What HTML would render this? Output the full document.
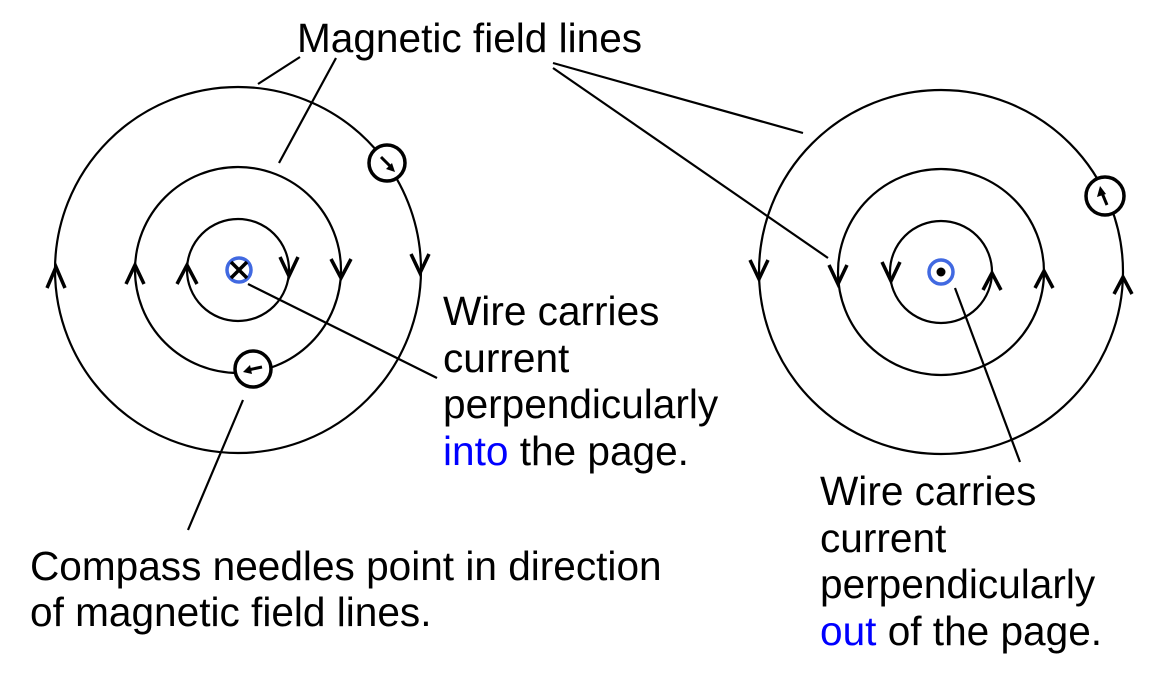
<!DOCTYPE html>
<html><head><meta charset="utf-8"><style>
html,body{margin:0;padding:0;background:#fff;width:1158px;height:692px;overflow:hidden}
svg text{font-family:"Liberation Sans",Arial,sans-serif;font-size:40.6px;fill:#000}
</style></head><body>
<svg width="1158" height="692" viewBox="0 0 1158 692">
<g fill="none" stroke="#000" stroke-width="2.2">
 <circle cx="238" cy="270" r="51"/>
 <circle cx="238" cy="270" r="103"/>
 <circle cx="238" cy="270" r="183"/>
 <circle cx="941" cy="272" r="51"/>
 <circle cx="941" cy="272" r="103"/>
 <circle cx="941" cy="272" r="182"/>
 <line x1="300" y1="57" x2="258" y2="84"/>
 <line x1="336" y1="58" x2="279" y2="163"/>
 <line x1="553" y1="63" x2="803" y2="133"/>
 <line x1="553" y1="68" x2="828" y2="258"/>
 <line x1="248" y1="284" x2="437" y2="378"/>
 <line x1="243" y1="400" x2="188" y2="530"/>
 <line x1="955" y1="288" x2="1020" y2="462"/>
</g>
<g fill="none" stroke="#000" stroke-width="3.5">
 <polyline points="47,288 56,267 65,288"/>
 <polyline points="126,284 135,265 144,284"/>
 <polyline points="177,284 187,265 197,284"/>
 <polyline points="280,257 289,276 298,257"/>
 <polyline points="331,259 341,278 351,259"/>
 <polyline points="411,254 420,273 429,254"/>
 <polyline points="750,260 759,279 768,260"/>
 <polyline points="829,265 838,284 847,265"/>
 <polyline points="882,262 891,281 900,262"/>
 <polyline points="983,290 992,273 1001,290"/>
 <polyline points="1035,288 1044,271 1053,288"/>
 <polyline points="1114,294 1123,277 1132,294"/>
</g>
<g>
 <circle cx="239" cy="270" r="12" fill="#fff" stroke="#4169e1" stroke-width="3.5"/>
 <line x1="231" y1="262" x2="247" y2="278" stroke="#000" stroke-width="3.5"/>
 <line x1="247" y1="262" x2="231" y2="278" stroke="#000" stroke-width="3.5"/>
</g>
<g>
 <circle cx="941" cy="272" r="12" fill="#fff" stroke="#4169e1" stroke-width="3.5"/>
 <circle cx="941" cy="272" r="4.5" fill="#000"/>
</g>
<g>
 <circle cx="387" cy="163" r="18" fill="#fff" stroke="#000" stroke-width="3.5"/>
 <line x1="381" y1="157" x2="392" y2="168" stroke="#000" stroke-width="3"/>
 <polygon points="395,172 386,169 392,163" fill="#000"/>
</g>
<g>
 <circle cx="253" cy="369" r="18" fill="#fff" stroke="#000" stroke-width="3.5"/>
 <line x1="262" y1="367" x2="248" y2="370" stroke="#000" stroke-width="3"/>
 <polygon points="243,372 250,365 252,374" fill="#000"/>
</g>
<g>
 <circle cx="1105" cy="196" r="19" fill="#fff" stroke="#000" stroke-width="3.5"/>
 <line x1="1107" y1="205" x2="1102" y2="193" stroke="#000" stroke-width="3"/>
 <polygon points="1100,186 1097,197 1106,194" fill="#000"/>
</g>
<text x="297" y="52">Magnetic field lines</text>
<g>
 <text x="443" y="325">Wire carries</text>
 <text x="443" y="372">current</text>
 <text x="443" y="418">perpendicularly</text>
 <text x="443" y="465"><tspan fill="#0000ff">into</tspan> the page.</text>
</g>
<g>
 <text x="30" y="580">Compass needles point in direction</text>
 <text x="30" y="626">of magnetic field lines.</text>
</g>
<g>
 <text x="820" y="505">Wire carries</text>
 <text x="820" y="552">current</text>
 <text x="820" y="598">perpendicularly</text>
 <text x="820" y="645"><tspan fill="#0000ff">out</tspan> of the page.</text>
</g>
</svg>
</body></html>
